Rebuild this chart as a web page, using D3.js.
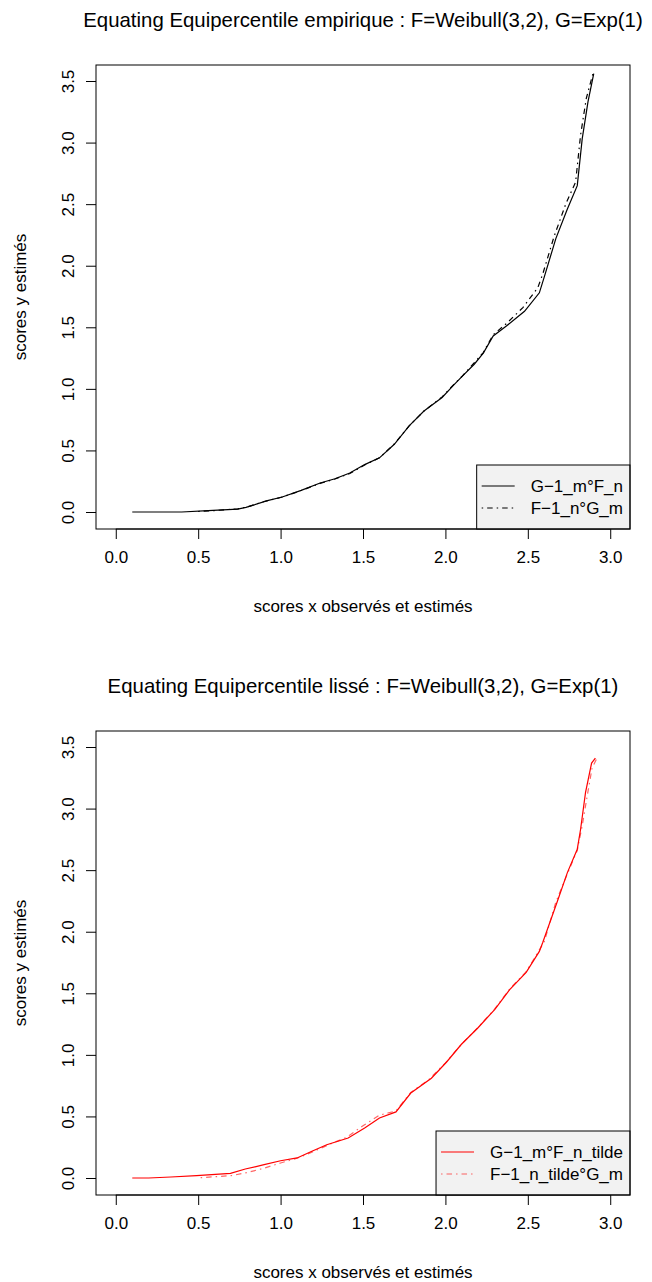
<!DOCTYPE html>
<html>
<head>
<meta charset="utf-8">
<script src="https://cdn.jsdelivr.net/npm/d3@7"></script>
<style>
body { margin: 0; background: #fff; }
text { font-family: "Liberation Sans", Arial, sans-serif; fill: #000; }
</style>
</head>
<body>
<script>
// top panel : empirical equating
const xEmpG = [0.1,0.4,0.56,0.74,0.79,0.83,0.92,1.01,1.125,1.24,1.33,1.42,1.51,1.6,1.69,1.78,1.87,1.98,2.05,2.1,2.175,2.23,2.29,2.37,2.48,2.57,2.6,2.67,2.74,2.8,2.83,2.865,2.9];
const yEmpG = [0,0,0.011,0.024,0.038,0.054,0.092,0.122,0.176,0.236,0.27,0.317,0.385,0.44,0.55,0.70,0.82,0.93,1.03,1.10,1.20,1.29,1.43,1.51,1.63,1.78,1.91,2.22,2.46,2.65,3.03,3.33,3.56];
const xEmpF = [0.5,0.6,0.74,0.8,0.9,1.0,1.12,1.24,1.33,1.42,1.51,1.6,1.69,1.78,1.87,1.98,2.05,2.1,2.17,2.23,2.29,2.37,2.47,2.56,2.59,2.66,2.73,2.79,2.82,2.855,2.895];
const yEmpF = [0.004,0.012,0.026,0.042,0.085,0.118,0.172,0.232,0.268,0.313,0.382,0.44,0.552,0.70,0.82,0.935,1.035,1.10,1.205,1.295,1.44,1.53,1.66,1.82,1.93,2.24,2.50,2.68,3.06,3.36,3.56];

// bottom panel : smoothed equating
const xLisG = [0.1,0.2,0.334,0.49,0.696,0.786,0.9,1.0,1.1,1.19,1.28,1.41,1.51,1.6,1.7,1.79,1.915,2.006,2.096,2.198,2.3,2.39,2.49,2.57,2.59,2.68,2.74,2.8,2.82,2.85,2.887,2.91];
const yLisG = [0,0,0.008,0.019,0.038,0.073,0.108,0.14,0.163,0.217,0.27,0.325,0.406,0.488,0.537,0.69,0.81,0.94,1.084,1.22,1.37,1.53,1.67,1.84,1.91,2.25,2.48,2.67,2.83,3.13,3.37,3.41];
const xLisF = [0.515,0.6,0.7,0.8,0.9,1.0,1.1,1.2,1.3,1.4,1.5,1.6,1.7,1.79,1.9,2.0,2.1,2.2,2.3,2.39,2.49,2.56,2.6,2.67,2.74,2.8,2.83,2.86,2.89,2.92];
const yLisF = [0.003,0.01,0.019,0.045,0.08,0.122,0.16,0.215,0.275,0.33,0.425,0.51,0.545,0.695,0.80,0.935,1.09,1.225,1.375,1.535,1.675,1.83,1.92,2.24,2.47,2.66,2.86,3.1,3.33,3.41];

const xTicks = [0,0.5,1,1.5,2,2.5,3];
const yTicks = [0,0.5,1,1.5,2,2.5,3,3.5];

const titles = ["Equating Equipercentile empirique : F=Weibull(3,2), G=Exp(1)",
                "Equating Equipercentile lissé : F=Weibull(3,2), G=Exp(1)"];
const legendTop = ["G\u22121_m°F_n", "F\u22121_n°G_m"];
const legendBot = ["G\u22121_m°F_n_tilde", "F\u22121_n_tilde°G_m"];

const W = 652, H = 1282;
const box = {left: 96, right: 630, top: 65, bottom: 529};
const panelShift = 666;
const fs = 17;

const svg = d3.select("body").append("svg")
  .attr("width", W).attr("height", H);

const x = d3.scaleLinear().domain([-0.12, 3.12]).range([box.left, box.right]);
const y = d3.scaleLinear().domain([-0.138, 3.63]).range([box.bottom, box.top]);

function panel(off, title, s1, s2, col1, col2, labels){
  var g = svg.append("g").attr("transform", "translate(0," + off + ")");

  g.append("text")
    .attr("x", (box.left + box.right)/2).attr("y", 27)
    .attr("text-anchor", "middle")
    .style("font-size", (fs*1.2) + "px")
    .text(title);

  var xa = g.append("g")
    .attr("transform", "translate(0," + box.bottom + ")")
    .call(d3.axisBottom(x).tickValues(xTicks).tickFormat(d3.format(".1f")).tickSize(10).tickPadding(12));
  var ya = g.append("g")
    .attr("transform", "translate(" + box.left + ",0)")
    .call(d3.axisLeft(y).tickValues(yTicks).tickFormat(d3.format(".1f")).tickSize(10).tickPadding(10));
  [xa, ya].forEach(function(a){
    a.select(".domain").remove();
    a.selectAll("line").attr("stroke", "#000");
    a.selectAll("text").style("font-size", fs + "px").attr("font-family", null);
  });
  ya.selectAll(".tick text")
    .attr("text-anchor", "middle")
    .attr("transform", function(){ return "translate(-28,0) rotate(-90)"; })
    .attr("x", 0).attr("dy", "0.35em");
  // the axis line spans first to last tick, as R does
  g.append("line").attr("x1", x(0)).attr("x2", x(3)).attr("y1", box.bottom).attr("y2", box.bottom).attr("stroke", "#000");

  g.append("text")
    .attr("x", (box.left + box.right)/2).attr("y", 612)
    .attr("text-anchor", "middle").style("font-size", fs + "px")
    .text("scores x observés et estimés");
  g.append("text")
    .attr("transform", "translate(26," + (box.top + box.bottom)/2 + ") rotate(-90)")
    .attr("text-anchor", "middle").style("font-size", fs + "px")
    .text("scores y estimés");

  var line = d3.line().x(function(d){ return x(d[0]); }).y(function(d){ return y(d[1]); });
  g.append("path").datum(d3.zip(s1[0], s1[1]))
    .attr("d", line).attr("fill", "none").attr("stroke", col1).attr("stroke-width", 1.2);
  g.append("path").datum(d3.zip(s2[0], s2[1]))
    .attr("d", line).attr("fill", "none").attr("stroke", col2).attr("stroke-width", 1.2)
    .attr("stroke-dasharray", "1.5,4,5.5,4");

  // legend, bottom right
  var lg = g.append("g");
  var rect = lg.append("rect");
  var t = [];
  labels.forEach(function(l, i){
    t.push(lg.append("text").attr("y", 486 + i*22).attr("dy", "0.35em")
      .style("font-size", fs + "px").text(l));
  });
  var tw = d3.max(t, function(e){ return e.node().getComputedTextLength(); });
  var lx = box.right - tw - 61;
  rect.attr("x", lx).attr("y", 465).attr("width", box.right - lx).attr("height", box.bottom - 465)
    .attr("fill", "#f2f2f2").attr("stroke", "#000");
  t.forEach(function(e){ e.attr("x", lx + 54); });
  [col1, col2].forEach(function(c, i){
    var ln = lg.append("line").attr("x1", lx + 5).attr("x2", lx + 38)
      .attr("y1", 486 + i*22).attr("y2", 486 + i*22).attr("stroke", c).attr("stroke-width", 1.2);
    if (i == 1) ln.attr("stroke-dasharray", "1.5,4,5.5,4");
  });

  g.append("rect")
    .attr("x", box.left).attr("y", box.top)
    .attr("width", box.right - box.left).attr("height", box.bottom - box.top)
    .attr("fill", "none").attr("stroke", "#000");
}

panel(0, titles[0], [xEmpG, yEmpG], [xEmpF, yEmpF], "#000", "#000", legendTop);
panel(panelShift, titles[1], [xLisG, yLisG], [xLisF, yLisF], "#ff0000", "rgba(255,0,0,0.6)", legendBot);
</script>
</body>
</html>
